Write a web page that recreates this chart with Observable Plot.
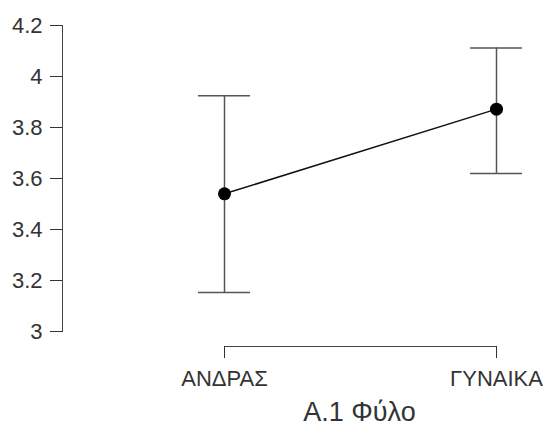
<!DOCTYPE html>
<html>
<head>
<meta charset="utf-8">
<script src="https://cdn.jsdelivr.net/npm/d3@7"></script>
<script src="https://cdn.jsdelivr.net/npm/@observablehq/plot@0.6"></script>
<style>
  html, body { margin: 0; padding: 0; background: white; }
</style>
</head>
<body>
<div id="chart"></div>
<script>
const groups = ["ΑΝΔΡΑΣ", "ΓΥΝΑΙΚΑ"];
const means = [3.54, 3.872];
const lower = [3.153, 3.62];
const upper = [3.925, 4.112];
const yTicks = [3, 3.2, 3.4, 3.6, 3.8, 4, 4.2];
const xTitle = "Α.1 Φύλο";

const data = groups.map((g, i) => ({group: g, mean: means[i], lo: lower[i], hi: upper[i]}));

const chart = Plot.plot({
  width: 547,
  height: 430,
  marginTop: 25,
  marginBottom: 99,
  marginLeft: 62,
  marginRight: 51,
  style: {fontFamily: "'Liberation Sans', Arial, sans-serif", background: "white"},
  x: {type: "point", domain: groups, range: [224, 496], padding: 0},
  y: {domain: [yTicks[0], yTicks[yTicks.length - 1]]},
  marks: [
    Plot.frame({anchor: "left", stroke: "#444"}),
    Plot.axisY({ticks: yTicks, tickFormat: d => String(d), tickSize: 12, tickPadding: 8, fontSize: 22, color: "#333", label: null}),
    Plot.ruleY([yTicks[0]], {x1: () => groups[0], x2: () => groups[1], dy: 15, stroke: "#444"}),
    Plot.axisX({tickSize: 12, tickPadding: 12, dy: 15, fontSize: 22, color: "#333", label: null}),
    Plot.text([xTitle], {text: d => d, frameAnchor: "bottom", dx: 80, dy: 89, fontSize: 27, fill: "#333"}),
    Plot.ruleX(data, {x: "group", y1: "lo", y2: "hi", stroke: "#555", strokeWidth: 1.5}),
    Plot.ruleY(data, {x1: "group", x2: "group", y: "hi", insetLeft: -26, insetRight: -26, stroke: "#555", strokeWidth: 1.5}),
    Plot.ruleY(data, {x1: "group", x2: "group", y: "lo", insetLeft: -26, insetRight: -26, stroke: "#555", strokeWidth: 1.5}),
    Plot.line(data, {x: "group", y: "mean", stroke: "#111", strokeWidth: 1.5}),
    Plot.dot(data, {x: "group", y: "mean", r: 6.5, fill: "black"})
  ]
});
document.getElementById("chart").appendChild(chart);
</script>
</body>
</html>
